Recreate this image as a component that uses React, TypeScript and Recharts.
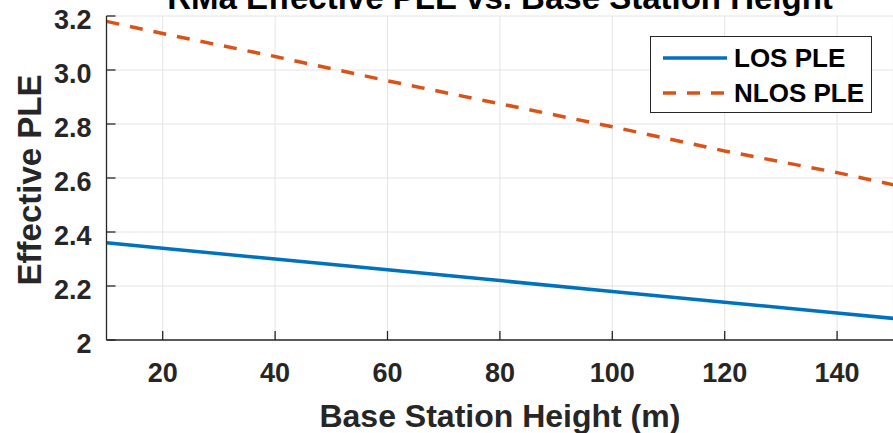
import React from "react";
import { LineChart, Line, XAxis, YAxis, CartesianGrid, Legend } from "recharts";

// base station height (m) and effective path loss exponent
const heights = [10, 20, 40, 60, 80, 100, 120, 140, 150];
const losPle = [2.36, 2.34, 2.3, 2.26, 2.22, 2.18, 2.14, 2.1, 2.08];
const nlosPle = [3.18, 3.135, 3.05, 2.96, 2.875, 2.79, 2.7, 2.62, 2.575];

const xTicks = [20, 40, 60, 80, 100, 120, 140];
const yTicks = [2, 2.2, 2.4, 2.6, 2.8, 3.0, 3.2];
const yTickLabels = ["2", "2.2", "2.4", "2.6", "2.8", "3.0", "3.2"];

const series = [
  { key: "los", name: "LOS PLE", color: "#0072BD", dash: undefined as string | undefined },
  { key: "nlos", name: "NLOS PLE", color: "#D95319", dash: "13 11" },
];

const data = heights.map((h, i) => ({ h, los: losPle[i], nlos: nlosPle[i] }));

const AXIS = "#262626";
const FONT = "'Liberation Sans', Arial, Helvetica, sans-serif";

const BottomTick = ({ x, y, payload }: any) => (
  <g>
    <line x1={x} x2={x} y1={y} y2={y - 9} stroke={AXIS} strokeWidth={1.3} />
    <text x={x} y={y + 42} textAnchor="middle" fill={AXIS} fontSize={27} fontWeight="bold" fontFamily={FONT}>
      {payload.value}
    </text>
  </g>
);

const TopTick = ({ x, y }: any) => <line x1={x} x2={x} y1={y} y2={y + 9} stroke={AXIS} strokeWidth={1.3} />;

const LeftTick = ({ x, y, payload }: any) => {
  const idx = yTicks.findIndex((t) => Math.abs(t - payload.value) < 1e-6);
  return (
    <g>
      <line x1={x} x2={x + 9} y1={y} y2={y} stroke={AXIS} strokeWidth={1.3} />
      <text x={x - 15} y={y + 13} textAnchor="end" fill={AXIS} fontSize={27} fontWeight="bold" fontFamily={FONT}>
        {idx >= 0 ? yTickLabels[idx] : payload.value}
      </text>
    </g>
  );
};

const RightTick = ({ x, y }: any) => <line x1={x} x2={x - 9} y1={y} y2={y} stroke={AXIS} strokeWidth={1.3} />;

const LegendBox = () => (
  <div
    style={{
      width: 222,
      height: 77,
      border: `1.3px solid ${AXIS}`,
      background: "#fff",
      boxSizing: "border-box",
      position: "relative",
    }}
  >
    {series.map((s, i) => (
      <div
        key={s.key}
        style={{ position: "absolute", left: 12, top: 7 + i * 35, height: 28, display: "flex", alignItems: "center" }}
      >
        <svg width={64} height={8}>
          <line x1={0} x2={64} y1={4} y2={4} stroke={s.color} strokeWidth={3.5} strokeDasharray={s.dash} />
        </svg>
        <span style={{ marginLeft: 7, font: `bold 26px ${FONT}`, color: "#000", lineHeight: "28px" }}>{s.name}</span>
      </div>
    ))}
  </div>
);

export default function App() {
  return (
    <div style={{ position: "absolute", left: 0, top: 0, width: 893, height: 433, overflow: "hidden", background: "#fff" }}>
      <LineChart width={900} height={433} data={data} margin={{ top: 16, right: 6.7, bottom: 0, left: 0 }}>
        <CartesianGrid stroke="#e4e4e4" strokeWidth={1} />
        <XAxis
          dataKey="h"
          type="number"
          domain={[10, 150]}
          ticks={xTicks}
          height={93}
          tickSize={0}
          tickMargin={0}
          tickLine={false}
          tick={<BottomTick />}
          axisLine={{ stroke: AXIS, strokeWidth: 1.3 }}
          label={{
            value: "Base Station Height (m)",
            position: "insideBottom",
            offset: 6,
            fill: AXIS,
            fontSize: 32,
            fontWeight: "bold",
            fontFamily: FONT,
          }}
        />
        <XAxis
          xAxisId="top"
          orientation="top"
          dataKey="h"
          type="number"
          domain={[10, 150]}
          ticks={xTicks}
          height={0}
          tickSize={0}
          tickMargin={0}
          tickLine={false}
          tick={<TopTick />}
          axisLine={{ stroke: AXIS, strokeWidth: 1.3 }}
        />
        <YAxis
          type="number"
          domain={[2, 3.2]}
          ticks={yTicks}
          width={106.5}
          tickSize={0}
          tickMargin={0}
          tickLine={false}
          tick={<LeftTick />}
          axisLine={{ stroke: AXIS, strokeWidth: 1.3 }}
        />
        <YAxis
          yAxisId="right"
          orientation="right"
          type="number"
          domain={[2, 3.2]}
          ticks={yTicks}
          width={0}
          tickSize={0}
          tickMargin={0}
          tickLine={false}
          tick={<RightTick />}
          axisLine={{ stroke: AXIS, strokeWidth: 1.3 }}
        />
        {series.map((s) => (
          <Line
            key={s.key}
            type="linear"
            dataKey={s.key}
            name={s.name}
            stroke={s.color}
            strokeWidth={3.5}
            strokeDasharray={s.dash}
            dot={false}
            activeDot={false}
            isAnimationActive={false}
          />
        ))}
        <Legend
          layout="vertical"
          align="center"
          verticalAlign="middle"
          content={<LegendBox />}
          wrapperStyle={{ left: 650, top: 36, width: 222, height: 77 }}
        />
        <text x={500} y={9} textAnchor="middle" fill="#000" fontSize={33} fontWeight="bold" fontFamily={FONT}>
          RMa Effective PLE vs. Base Station Height
        </text>
        <text
          x={29}
          y={180}
          transform="rotate(-90, 29, 180)"
          textAnchor="middle"
          dominantBaseline="central"
          fill={AXIS}
          fontSize={33}
          fontWeight="bold"
          fontFamily={FONT}
        >
          Effective PLE
        </text>
      </LineChart>
    </div>
  );
}
